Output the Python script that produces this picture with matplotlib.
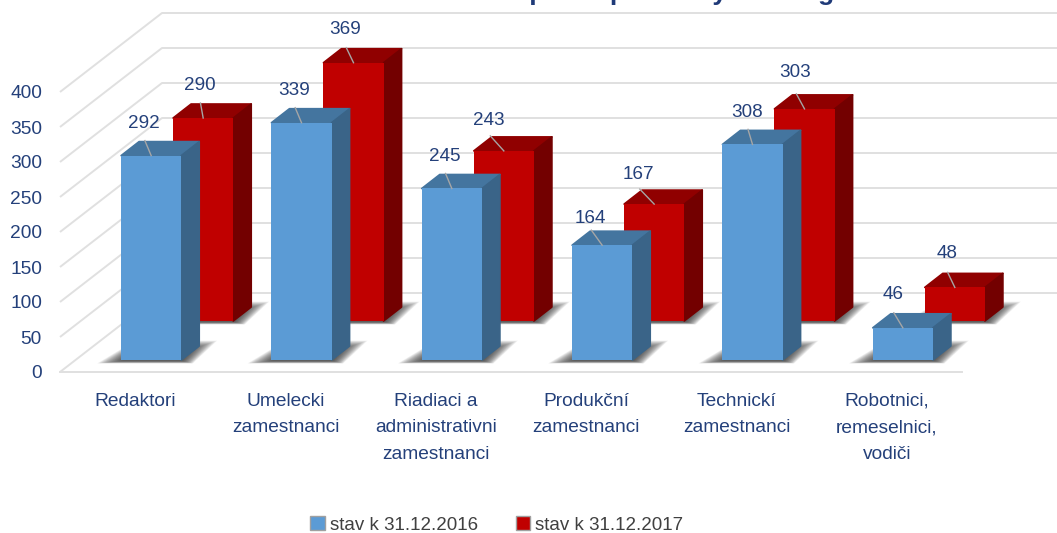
import matplotlib
matplotlib.use('Agg')
import matplotlib.pyplot as plt
from matplotlib.patches import Patch, Polygon
from matplotlib.transforms import Affine2D, IdentityTransform

categories = ['Redaktori', 'Umelecki\nzamestnanci', 'Riadiaci a\nadministrativni\nzamestnanci',
              'Produkční\nzamestnanci', 'Technickí\nzamestnanci', 'Robotnici,\nremeselnici,\nvodiči']
values_2016 = [292, 339, 245, 164, 308, 46]
values_2017 = [290, 369, 243, 167, 303, 48]
y_ticks = [0, 50, 100, 150, 200, 250, 300, 350, 400]
legend_labels = ['stav k 31.12.2016', 'stav k 31.12.2017']
title_text = 'Počet zamestnancov podľa pracovných kategórií'

# where the labels sit relative to the bar top centre, in pixels
label_shift_2016 = [(-7, 32), (-7, 32), (-7, 32), (-12, 27), (-5, 32), (-10, 33)]
label_shift_2017 = [(-3, 32), (-8, 33), (-15, 30), (-16, 30), (-9, 36), (-8, 34)]

W, H = 1057, 533
NAVY = '#24407a'
GRID = '#e0e0e0'
BAR_W = 0.4
DEPTH = (18, 14)
WALL = (102, 79)

plt.rcParams['font.family'] = ['Liberation Sans', 'DejaVu Sans']
fig = plt.figure(figsize=(W / 100, H / 100), dpi=100)
ax = fig.add_axes([60 / W, (H - 372) / H, 902 / W, 280 / H])
ax.set_xlim(-0.5, 5.5)
ax.set_ylim(0, 400)
for s in ['top', 'left', 'right']:
    ax.spines[s].set_visible(False)
ax.spines['bottom'].set_color(GRID)
ax.spines['bottom'].set_linewidth(1.4)
ax.patch.set_visible(False)
ax.set_yticks(y_ticks)
ax.set_xticks(range(len(categories)))
ax.set_xticklabels(categories, color=NAVY, fontsize=13.8, linespacing=1.72)
ax.tick_params(axis='y', length=0, pad=13, labelsize=13.8, labelcolor=NAVY)
ax.tick_params(axis='x', length=0, pad=15)


def px(x, v, dx=0, dy=0):
    # data point to display pixels, then moved by a pixel offset
    a = ax.transData.transform((x, v))
    return (a[0] + dx, a[1] + dy)


def poly(points, color, z, alpha=1.0, round_edge=False):
    ax.add_patch(Polygon(points, closed=True, facecolor=color, alpha=alpha,
                         edgecolor=color if round_edge else 'none', linewidth=1.2 if round_edge else 0,
                         joinstyle='round', transform=IdentityTransform(), clip_on=False, zorder=z))


# wall and side gridlines
for v in y_ticks:
    start = px(-0.5, v)
    wall = px(-0.5, v, WALL[0], WALL[1])
    ax.plot([start[0], wall[0], W + 5], [start[1], wall[1], wall[1]], color=GRID, lw=1.4,
            transform=IdentityTransform(), clip_on=False, zorder=1, solid_capstyle='butt')


def draw_series(values, shift, front, side, top, label_shift, z):
    for i, v in enumerate(values):
        left = i - BAR_W / 2
        right = i + BAR_W / 2
        # soft floor shadow, many faint layers so it fades outwards
        a = px(left, 0, shift[0], shift[1])
        b = px(right, 0, shift[0], shift[1])
        for k in range(26):
            grow = 24 - k
            poly([(a[0] - grow, a[1] - 1 - grow * 0.1),
                  (b[0] + 2 + grow * 0.4, b[1] - 1 - grow * 0.1),
                  (b[0] + 12 + grow, b[1] + 11 + grow * 0.35),
                  (a[0] + 14, a[1] + 11 + grow * 0.35)], '#303030', z, alpha=0.05)
        # block: front from the axes scale, the top and side follow it
        ax.bar(i, v, BAR_W, color=front, clip_on=False, zorder=z + 3,
               transform=ax.transData + Affine2D().translate(shift[0], shift[1]))
        c = px(left, v, shift[0], shift[1])
        d = px(right, v, shift[0], shift[1])
        poly([c, d, (d[0] + DEPTH[0], d[1] + DEPTH[1]), (c[0] + DEPTH[0], c[1] + DEPTH[1])], top, z + 1,
             round_edge=True)
        poly([b, d, (d[0] + DEPTH[0], d[1] + DEPTH[1]), (b[0] + DEPTH[0], b[1] + DEPTH[1])], side, z + 2,
             round_edge=True)
        # label and its leader line
        cx, cy = px(i, v, shift[0], shift[1])
        lx, ly = label_shift[i]
        ax.plot([cx, cx + lx * 0.9], [cy, cy + 15], color='#a6a6a6', lw=1.0,
                transform=IdentityTransform(), clip_on=False, zorder=z + 4)
        ax.text(cx + lx, cy + ly, str(v), color=NAVY, fontsize=13.6, ha='center', va='center',
                transform=IdentityTransform(), clip_on=False, zorder=z + 5)


draw_series(values_2017, (68, 51), '#c00000', '#730000', '#900000', label_shift_2017, 2)
draw_series(values_2016, (16, 12), '#5b9bd5', '#3a6488', '#44759f', label_shift_2016, 20)

# the title is cut off by the top of the picture, only its descenders show
fig.text(568 / W, 1.0, title_text, color='#1f3a78', fontsize=19, fontweight='bold',
         ha='center', va='baseline')

handles = [Patch(facecolor='#5b9bd5', edgecolor='#a0a0a0'), Patch(facecolor='#c00000', edgecolor='#a0a0a0')]
fig.legend(handles, legend_labels, loc='center', bbox_to_anchor=(497 / W, (H - 525) / H), ncol=2,
           frameon=False, fontsize=13.5, handlelength=0.75, handleheight=0.75, handletextpad=0.3,
           columnspacing=2.0, labelcolor='#404040', borderpad=0)

fig.savefig('out.png', dpi=100)
